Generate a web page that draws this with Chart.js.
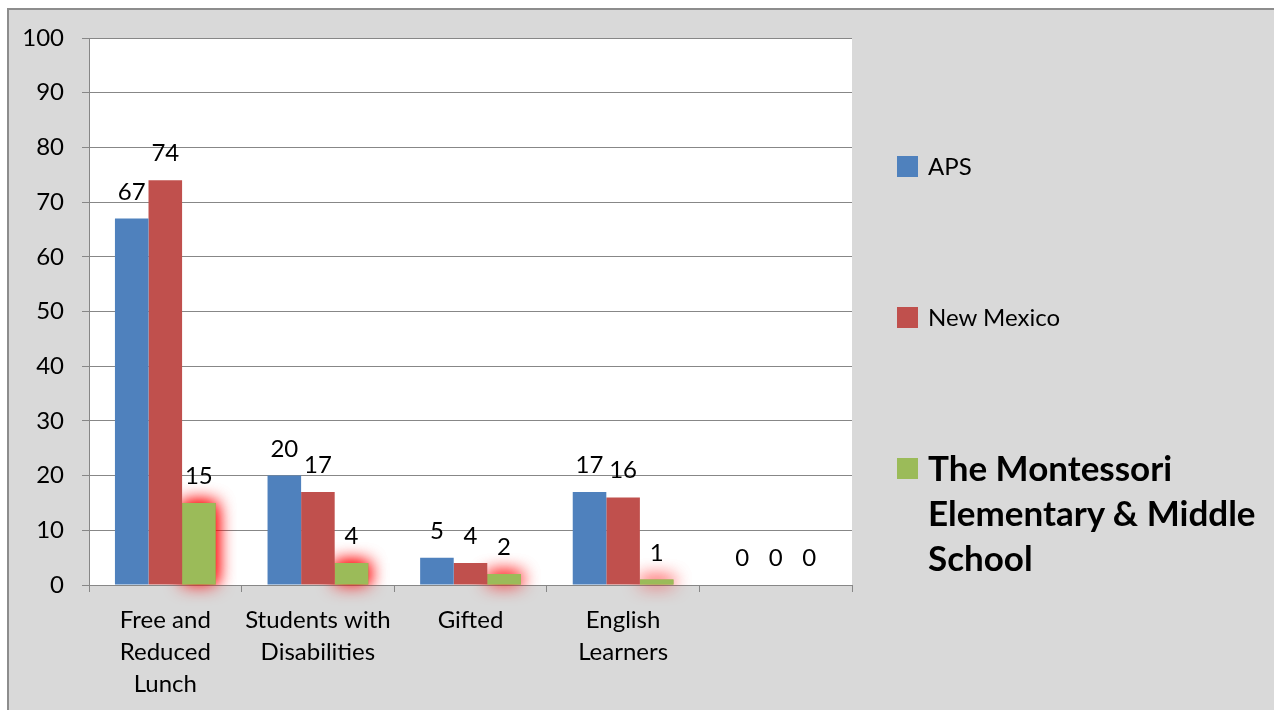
<!DOCTYPE html>
<html lang="en">
  <head>
    <meta charset="UTF-8" />
    <title>Student Groups</title>
    <script src="https://cdn.jsdelivr.net/npm/chart.js"></script>
    <style>
      body {
        margin: 0;
        background: #ffffff;
        font-family: Lato, sans-serif;
        overflow: hidden;
      }
      .frame {
        position: absolute;
        left: 7px;
        top: 8px;
        width: 1300px;
        height: 720px;
        background: #d9d9d9;
        border: 2px solid #8d8d8d;
      }
      .wrap {
        position: absolute;
        left: 0;
        top: 0;
        width: 1274px;
        height: 710px;
      }
      .legend {
        position: absolute;
        left: 897px;
        top: 0;
      }
      .legend .item {
        position: absolute;
        left: 0;
        white-space: nowrap;
        color: #000;
      }
      .legend .box {
        position: absolute;
        left: 0;
        width: 21px;
        height: 21px;
      }
      .legend .text {
        position: absolute;
        left: 31px;
      }
    </style>
  </head>
  <body>
    <div class="frame"></div>
    <div class="wrap"><canvas id="chart"></canvas></div>
    <div class="legend" id="legend"></div>

    <script>
      const categories = [
        ['Free and', 'Reduced', 'Lunch'],
        ['Students with', 'Disabilities'],
        'Gifted',
        ['English', 'Learners'],
        '',
      ]
      const seriesNames = ['APS', 'New Mexico', ['The Montessori', 'Elementary & Middle', 'School']]
      const apsValues = [67, 20, 5, 17, 0]
      const nmValues = [74, 17, 4, 16, 0]
      const schoolValues = [15, 4, 2, 1, 0]
      const yTicks = [0, 10, 20, 30, 40, 50, 60, 70, 80, 90, 100]

      const colors = ['#4f81bd', '#c0504d', '#9bbb59']
      const gridColor = '#878787'

      // white plot area
      const plotBg = {
        id: 'plotBg',
        beforeDraw(chart) {
          const a = chart.chartArea
          const ctx = chart.ctx
          ctx.save()
          ctx.fillStyle = '#ffffff'
          ctx.fillRect(a.left, a.top, a.right - a.left, a.bottom - a.top)
          ctx.restore()
        },
      }

      // red glow behind the school bars
      const glow = {
        id: 'glow',
        beforeDatasetDraw(chart, args) {
          if (args.index !== 2) return
          const ctx = chart.ctx
          ctx.save()
          ctx.shadowColor = 'rgba(255, 0, 0, 1)'
          ctx.shadowBlur = 18
          ctx.shadowOffsetX = 0
          ctx.shadowOffsetY = 0
          // draw once more so the glow gets stronger
          chart.getDatasetMeta(2).data.forEach((bar) => {
            const h = bar.base - bar.y
            if (h <= 0) return
            ctx.fillStyle = colors[2]
            ctx.fillRect(bar.x - bar.width / 2, bar.y, bar.width, h)
          })
        },
        afterDatasetDraw(chart, args) {
          if (args.index !== 2) return
          chart.ctx.restore()
        },
      }

      // value labels above bars
      const valueLabels = {
        id: 'valueLabels',
        afterDatasetsDraw(chart) {
          const ctx = chart.ctx
          ctx.save()
          ctx.font = '24px Lato'
          ctx.fillStyle = '#000'
          ctx.textAlign = 'center'
          ctx.textBaseline = 'alphabetic'
          chart.data.datasets.forEach((ds, i) => {
            chart.getDatasetMeta(i).data.forEach((bar, j) => {
              ctx.fillText(String(ds.data[j]), bar.x, bar.y - 19)
            })
          })
          ctx.restore()
        },
      }

      const ctx = document.getElementById('chart').getContext('2d')
      const chart = new Chart(ctx, {
        type: 'bar',
        data: {
          labels: categories,
          datasets: [
            { label: 'APS', data: apsValues, backgroundColor: colors[0] },
            { label: 'New Mexico', data: nmValues, backgroundColor: colors[1] },
            {
              label: 'The Montessori Elementary & Middle School',
              data: schoolValues,
              backgroundColor: colors[2],
            },
          ],
        },
        options: {
          responsive: true,
          maintainAspectRatio: false,
          animation: false,
          layout: { padding: { left: 0, top: 38, right: 422, bottom: 0 } },
          plugins: {
            legend: { display: false },
            tooltip: { enabled: false },
          },
          datasets: {
            bar: { categoryPercentage: 0.66, barPercentage: 1.0 },
          },
          scales: {
            x: {
              grid: {
                offset: true,
                drawOnChartArea: false,
                drawTicks: true,
                tickLength: 7,
                color: gridColor,
              },
              border: { color: gridColor, width: 1 },
              ticks: {
                color: '#000',
                font: { family: 'Lato', size: 24, lineHeight: 1.34 },
                padding: 12,
                maxRotation: 0,
                autoSkip: false,
              },
              afterFit(scale) {
                scale.height = 125
              },
            },
            y: {
              min: 0,
              max: 100,
              afterBuildTicks(scale) {
                scale.ticks = yTicks.map((v) => ({ value: v }))
              },
              grid: {
                color: gridColor,
                tickLength: 7,
                drawTicks: true,
              },
              border: { color: gridColor, width: 1 },
              ticks: {
                color: '#000',
                font: { family: 'Lato', size: 24 },
                padding: 18,
              },
              afterFit(scale) {
                scale.width = 89
              },
            },
          },
        },
        plugins: [plotBg, glow, valueLabels],
      })

      // legend built from the datasets
      const legendTops = [156, 307, 458]
      const legend = document.getElementById('legend')
      seriesNames.forEach((name, i) => {
        const item = document.createElement('div')
        item.className = 'item'
        item.style.top = legendTops[i] + 'px'
        const box = document.createElement('div')
        box.className = 'box'
        box.style.background = colors[i]
        const text = document.createElement('div')
        text.className = 'text'
        if (Array.isArray(name)) {
          text.style.font = 'bold 35px Lato'
          text.style.lineHeight = '45px'
          text.style.top = '-13px'
          text.innerHTML = name.join('<br>')
        } else {
          text.style.font = '24px Lato'
          text.style.lineHeight = '21px'
          text.style.top = '-1px'
          text.textContent = name
        }
        item.appendChild(box)
        item.appendChild(text)
        legend.appendChild(item)
      })
    </script>
  </body>
</html>
